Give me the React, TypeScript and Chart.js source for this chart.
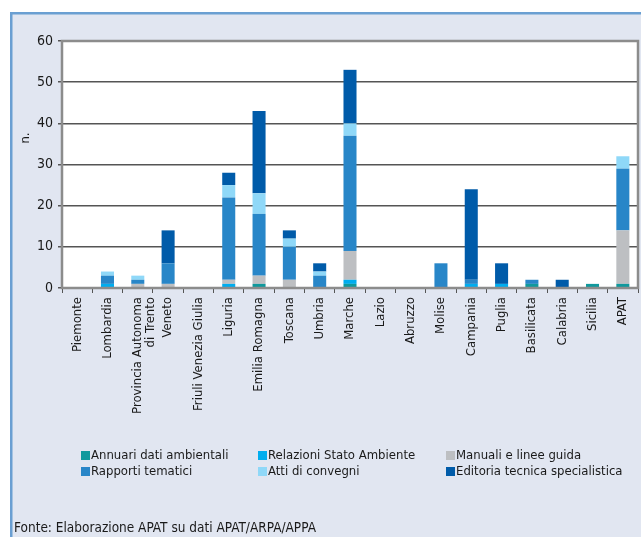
import React, { useEffect, useRef } from 'react';
import { Chart, registerables } from 'chart.js';

Chart.register(...registerables);

const categories: (string | string[])[] = [
  'Piemonte', 'Lombardia', ['Provincia Autonoma', 'di Trento'], 'Veneto', 'Friuli Venezia Giulia',
  'Liguria', 'Emilia Romagna', 'Toscana', 'Umbria', 'Marche', 'Lazio', 'Abruzzo', 'Molise',
  'Campania', 'Puglia', 'Basilicata', 'Calabria', 'Sicilia', 'APAT',
];
const annuari = [0, 0, 0, 0, 0, 0, 1, 0, 0, 1, 0, 0, 0, 0, 0, 1, 0, 1, 1];
const relazioni = [0, 1, 0, 0, 0, 1, 0, 0, 0, 1, 0, 0, 0, 1, 1, 0, 0, 0, 0];
const manuali = [0, 0, 1, 1, 0, 1, 2, 2, 0, 7, 0, 0, 0, 0, 0, 0, 0, 0, 13];
const rapporti = [0, 2, 1, 5, 0, 20, 15, 8, 3, 28, 0, 0, 6, 1, 0, 1, 0, 0, 15];
const atti = [0, 1, 1, 0, 0, 3, 5, 2, 1, 3, 0, 0, 0, 0, 0, 0, 0, 0, 3];
const editoria = [0, 0, 0, 8, 0, 3, 20, 2, 2, 13, 0, 0, 0, 22, 5, 0, 2, 0, 0];
const seriesNames = [
  'Annuari dati ambientali', 'Relazioni Stato Ambiente', 'Manuali e linee guida',
  'Rapporti tematici', 'Atti di convegni', 'Editoria tecnica specialistica',
];
const seriesColors = ['#10999d', '#00adef', '#bdbfc2', '#2886c8', '#8fd8f8', '#005ba9'];
const yTicks = [0, 10, 20, 30, 40, 50, 60];
const yTitle = 'n.';
const sourceNote = 'Fonte: Elaborazione APAT su dati APAT/ARPA/APPA';

const FONT = '"DejaVu Sans Condensed", "Liberation Sans", Arial, sans-serif';

export default function App() {
  const ref = useRef<HTMLCanvasElement | null>(null);

  useEffect(() => {
    document.body.style.margin = '0';
    const canvas = ref.current;
    if (!canvas) return;
    const values = [annuari, relazioni, manuali, rapporti, atti, editoria];

    const decor = {
      id: 'decor',
      beforeDraw(chart: any) {
        const { ctx, chartArea: a } = chart;
        ctx.save();
        ctx.fillStyle = '#e1e6f1';
        ctx.fillRect(10, 12, 641, 537);
        ctx.strokeStyle = '#6a9fd2';
        ctx.lineWidth = 2.5;
        ctx.beginPath();
        ctx.moveTo(11.25, 537);
        ctx.lineTo(11.25, 13.25);
        ctx.lineTo(641, 13.25);
        ctx.stroke();
        ctx.fillStyle = '#ffffff';
        ctx.fillRect(a.left, a.top, a.right - a.left, a.bottom - a.top);
        ctx.restore();
      },
      afterDraw(chart: any) {
        const { ctx, chartArea: a } = chart;
        ctx.save();
        ctx.strokeStyle = '#8c8c8c';
        ctx.lineWidth = 2.5;
        ctx.beginPath();
        ctx.moveTo(a.left, a.bottom);
        ctx.lineTo(a.left, a.top);
        ctx.lineTo(a.right, a.top);
        ctx.lineTo(a.right, a.bottom);
        ctx.closePath();
        ctx.stroke();
        // y title
        ctx.save();
        ctx.translate(26, 138);
        ctx.rotate(-Math.PI / 2);
        ctx.font = '13px ' + FONT;
        ctx.fillStyle = '#1a1a1a';
        ctx.textAlign = 'center';
        ctx.textBaseline = 'middle';
        ctx.fillText(yTitle, 0, 0);
        ctx.restore();
        // legend
        const colX = [81, 258, 446];
        const rowY = [455, 471];
        ctx.font = '13px ' + FONT;
        ctx.textBaseline = 'middle';
        ctx.textAlign = 'left';
        chart.data.datasets.forEach((ds: any, i: number) => {
          const x = colX[i % 3];
          const y = rowY[Math.floor(i / 3)];
          ctx.fillStyle = ds.backgroundColor;
          ctx.fillRect(x, y - 4, 9, 9);
          ctx.fillStyle = '#1a1a1a';
          ctx.fillText(ds.label, x + 10, y + 1);
        });
        ctx.font = '13.5px ' + FONT;
        ctx.fillStyle = '#1a1a1a';
        ctx.fillText(sourceNote, 14, 528);
        ctx.restore();
      },
    };

    const chart = new Chart(canvas, {
      type: 'bar',
      data: {
        labels: categories as any,
        datasets: values.map((v, i) => ({
          label: seriesNames[i],
          data: v,
          backgroundColor: seriesColors[i],
          borderWidth: 0,
          barPercentage: 0.43,
          categoryPercentage: 1,
        })),
      },
      options: {
        animation: false,
        responsive: false,
        maintainAspectRatio: false,
        layout: { padding: { left: 14, right: 3, top: 41, bottom: 0 } },
        plugins: { legend: { display: false }, tooltip: { enabled: false } },
        scales: {
          x: {
            stacked: true,
            grid: { display: true, drawOnChartArea: false, drawTicks: true, tickLength: 5, color: '#555', lineWidth: 1, offset: true },
            border: { display: false },
            ticks: {
              maxRotation: 90, minRotation: 90, autoSkip: false, padding: 4,
              color: '#1a1a1a', font: { family: FONT, size: 13, lineHeight: 1.0 },
            },
            afterFit: (s: any) => { s.height = 249; },
          },
          y: {
            stacked: true,
            min: 0, max: 60,
            afterBuildTicks: (s: any) => { s.ticks = yTicks.map((v) => ({ value: v })); },
            grid: { color: '#555', lineWidth: 1.5, tickLength: 4 },
            border: { display: false },
            ticks: { color: '#1a1a1a', padding: 5, font: { family: FONT, size: 14 } },
            afterFit: (s: any) => { s.width = 48; },
          },
        },
      },
      plugins: [decor],
    } as any);
    return () => chart.destroy();
  }, []);

  return <canvas ref={ref} width={641} height={537} style={{ display: 'block', width: 641, height: 537 }} />;
}
